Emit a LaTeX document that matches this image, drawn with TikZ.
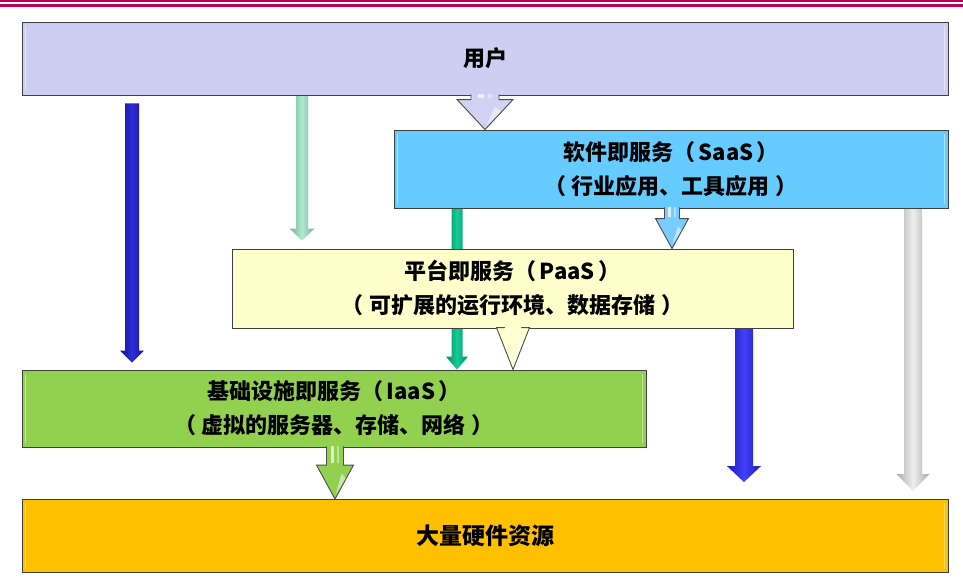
\documentclass[tikz,border=0pt]{standalone}
\usepackage{fontspec}
\newfontfamily\cjk{Noto Sans CJK SC}
\usetikzlibrary{calc}
\pgfdeclarelayer{bg}\pgfdeclarelayer{arrowlayer}
\pgfsetlayers{bg,arrowlayer,main}
\definecolor{topline}{RGB}{190,0,95}
\definecolor{cuser}{RGB}{206,206,242}
\definecolor{csaas}{RGB}{102,204,255}
\definecolor{cpaas}{RGB}{255,255,204}
\definecolor{ciaas}{RGB}{146,208,80}
\definecolor{chw}{RGB}{255,192,0}
\definecolor{dbE}{RGB}{20,20,150}\definecolor{dbM}{RGB}{45,45,215}
\definecolor{ltE}{RGB}{110,180,150}\definecolor{ltM}{RGB}{175,232,208}
\definecolor{dtE}{RGB}{0,140,100}\definecolor{dtM}{RGB}{20,205,150}
\definecolor{bE}{RGB}{25,25,190}\definecolor{bM}{RGB}{65,65,248}
\definecolor{gE}{RGB}{170,170,170}\definecolor{gM}{RGB}{238,238,238}
\definecolor{baLav}{RGB}{210,210,244}
\definecolor{baBlue}{RGB}{120,205,252}
\definecolor{baYel}{RGB}{255,255,212}
\definecolor{baGrn}{RGB}{146,208,80}
% thin shaded arrow: #1 top, #2 tip, #3 shaft hw, #4 head hw, #5 head len, #6 edge, #7 middle
\newcommand\thinarrow[7]{%
  \path[left color=#6, right color=#6, middle color=#7]
   ($(#1)+(-#3,0)$) -- ($(#2)+(-#3,-#5)$) -- ($(#2)+(-#4,-#5)$) -- (#2)
   -- ($(#2)+(#4,-#5)$) -- ($(#2)+(#3,-#5)$) -- ($(#1)+(#3,0)$) -- cycle;}
% outlined block arrow: #1 top, #2 tip, #3 shaft hw, #4 head hw, #5 head len, #6 fill
\newcommand\blockarrow[6]{%
  \fill[#6]
   ($(#1)+(-#3,0)$) -- ($(#2)+(-#3,-#5)$) -- ($(#2)+(-#4,-#5)$) -- (#2)
   -- ($(#2)+(#4,-#5)$) -- ($(#2)+(#3,-#5)$) -- ($(#1)+(#3,0)$) -- cycle;
  \fill[white,opacity=.7] ($(#1)+(-0.5*#3,0)$) rectangle ($(#2)+(-0.1*#3,-#5-2)$);
  \fill[white,opacity=.4] ($(#1)+(0.2*#3,0)$) rectangle ($(#2)+(0.5*#3,-#5-2)$);
  \fill[white,opacity=.5] ($(#2)+(0.35*#4,-0.75*#5)$) -- ($(#2)+(0.6*#4,-0.6*#5)$) -- ($(#2)+(0.05*#4,-0.15*#5)$) -- cycle;
  \draw[black!70, line width=0.9pt, line join=miter]
   ($(#1)+(-#3,0)$) -- ($(#2)+(-#3,-#5)$) -- ($(#2)+(-#4,-#5)$) -- (#2)
   -- ($(#2)+(#4,-#5)$) -- ($(#2)+(#3,-#5)$) -- ($(#1)+(#3,0)$);}
\newcommand\bevel[1]{%
  \draw[white, opacity=.45, line width=1.6pt] ($(#1.north west)+(4,4)$) -- ($(#1.south west)+(4,-4)$);
  \draw[white, opacity=.45, line width=1.6pt] ($(#1.north east)+(-4,4)$) -- ($(#1.south east)+(-4,-4)$);}
\newcommand\pa{\hspace{3pt}}
\newcommand\pb{\hspace{6pt}}
\begin{document}
\begin{tikzpicture}[x=1pt,y=-1pt,
  layerbox/.style={draw=black!75, line width=0.9pt, inner sep=0pt, align=center,
     font=\cjk\bfseries\fontsize{22}{34}\selectfont}]
\useasboundingbox (0,0) rectangle (963,576);
\begin{pgfonlayer}{bg}
\fill[white] (0,0) rectangle (963,576);
\end{pgfonlayer}
% top rules
\draw[topline, line width=2.4pt] (0,1.2) -- (963,1.2);
\draw[topline, line width=2.4pt] (0,5.3) -- (963,5.3);
% boxes
\node[layerbox, fill=cuser, minimum width=926pt, minimum height=73pt] (user) at (485,58.5) {用户};
\node[layerbox, fill=csaas, minimum width=554pt, minimum height=78pt] (saas) at (671,169)
  {软件即服务（\pa SaaS\pa）\\（\pb 行业应用、工具应用\pb）};
\node[layerbox, fill=cpaas, minimum width=561pt, minimum height=79pt] (paas) at (512.5,288.5)
  {平台即服务（\pa PaaS\pa）\\（\pb 可扩展的运行环境、数据存储\pb）};
\node[layerbox, fill=ciaas, minimum width=624pt, minimum height=77pt] (iaas) at (334,408.5)
  {基础设施即服务（\pa IaaS\pa）\\（\pb 虚拟的服务器、存储、网络\pb）};
\node[layerbox, fill=chw, minimum width=926pt, minimum height=73pt,
  font=\cjk\bfseries\fontsize{23}{30}\selectfont] (hw) at (485,536) {大量硬件资源};
\bevel{user}\bevel{saas}\bevel{paas}\bevel{iaas}\bevel{hw}
% arrow end points
\coordinate (a1t) at ($(user.south -| 132,0)+(0,8)$);
\coordinate (a1b) at ($(iaas.north -| 132,0)+(0,-7)$);
\coordinate (a2t) at (user.south -| 302,0);
\coordinate (a2b) at ($(paas.north -| 302,0)+(0,-8)$);
\coordinate (a3t) at (saas.south -| 457,0);
\coordinate (a3b) at (iaas.north -| 457,0);
\coordinate (a4t) at (paas.south -| 744,0);
\coordinate (a4b) at ($(hw.north -| 744,0)+(0,-17)$);
\coordinate (a5t) at (saas.south -| 913,0);
\coordinate (a5b) at ($(hw.north -| 913,0)+(0,-8)$);
\coordinate (b1t) at ($(user.south -| 485,0)+(0,-1)$);
\coordinate (b1b) at (saas.north -| 485,0);
\coordinate (b2t) at ($(saas.south -| 672,0)+(0,-1)$);
\coordinate (b2b) at (paas.north -| 672,0);
\coordinate (b3t) at ($(paas.south -| 513,0)+(0,-1)$);
\coordinate (b3b) at (iaas.north -| 513,0);
\coordinate (b4t) at ($(iaas.south -| 335,0)+(0,-1)$);
\coordinate (b4b) at (hw.north -| 335,0);
% thin arrows (behind the boxes)
\begin{pgfonlayer}{arrowlayer}
\thinarrow{a1t}{a1b}{7}{12}{12}{dbE}{dbM}
\thinarrow{a2t}{a2b}{6}{12.5}{12}{ltE}{ltM}
\thinarrow{a3t}{a3b}{5.5}{11}{13}{dtE}{dtM}
\thinarrow{a4t}{a4b}{9}{17}{16}{bE}{bM}
\thinarrow{a5t}{a5b}{9}{16.5}{17}{gE}{gM}
\end{pgfonlayer}
% block arrows
\blockarrow{b1t}{b1b}{14}{28}{30}{baLav}
\blockarrow{b2t}{b2b}{7.5}{16.5}{30}{baBlue}
\blockarrow{b3t}{b3b}{8.5}{16.5}{42}{baYel}
\blockarrow{b4t}{b4b}{8.5}{18.5}{34}{baGrn}
\end{tikzpicture}
\end{document}
